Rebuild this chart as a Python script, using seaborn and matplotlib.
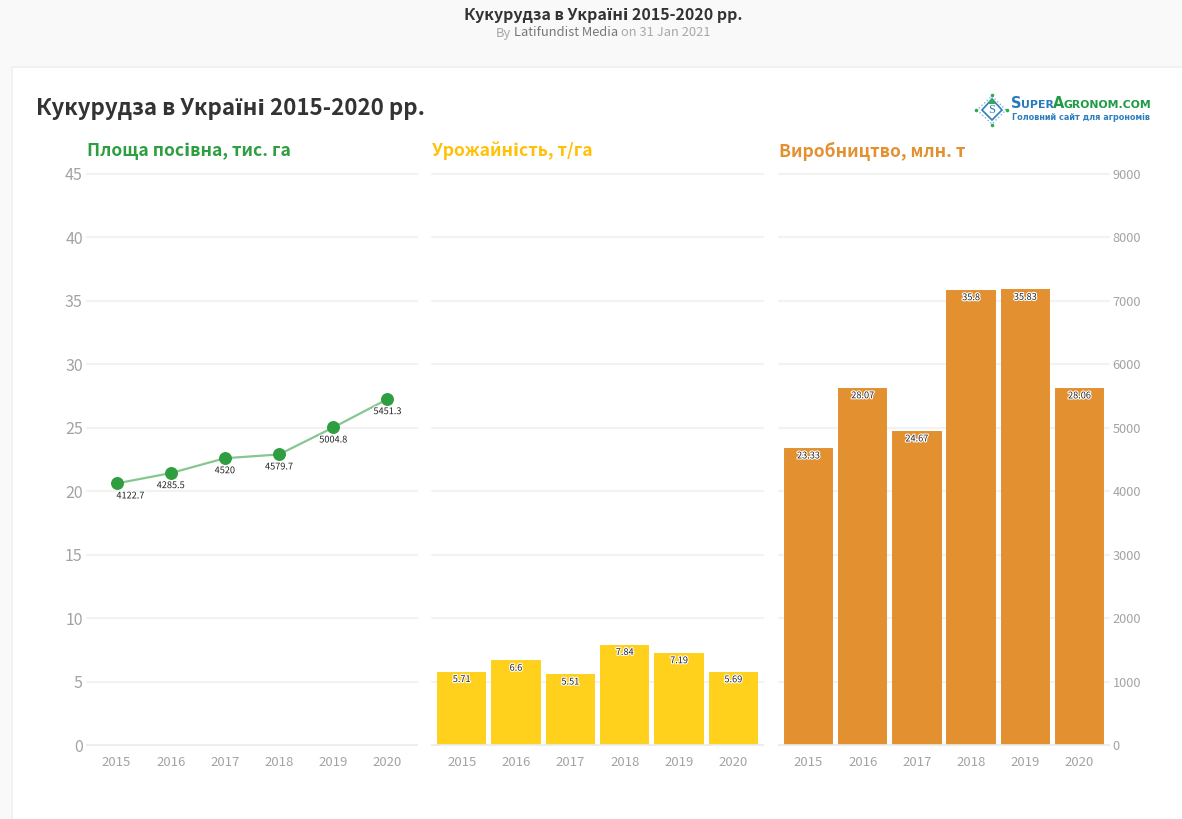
import matplotlib.pyplot as plt
import matplotlib.patheffects as pe
from matplotlib.lines import Line2D
from matplotlib.patches import Rectangle, Polygon
import seaborn as sns
import pandas as pd

W, H = 1182, 819

df = pd.DataFrame({
    'Year': ['2015', '2016', '2017', '2018', '2019', '2020'],
    'Area': [4122.7, 4285.5, 4520, 4579.7, 5004.8, 5451.3],
    'Yield': [5.71, 6.6, 5.51, 7.84, 7.19, 5.69],
    'Production': [23.33, 28.07, 24.67, 35.8, 35.83, 28.06],
})

GREEN = '#2e9e41'
YELLOW = '#ffd11c'
ORANGE = '#e39030'
GRID = '#f2f2f2'
TICK = '#a3a3a3'
DARK = '#333333'

sns.set_theme(style="white")
plt.rcParams['font.family'] = ['Noto Sans CJK SC', 'DejaVu Sans']

fig = plt.figure(figsize=(W / 100, H / 100), dpi=100, facecolor='#f9f9f9')


def px(x, y):
    return x / W, 1 - y / H


def panel(left, right):
    ax = fig.add_axes([left / W, 1 - 745 / H, (right - left) / W, (745 - 174) / H])
    ax.patch.set_alpha(0)
    ax.set_ylim(0, 45)
    ax.set_yticks(range(0, 50, 5))
    ax.grid(axis='y', color=GRID, lw=1.5, clip_on=False)
    ax.set_axisbelow(True)
    sns.despine(ax=ax, left=True, top=True, right=True)
    ax.spines['bottom'].set_color('#ececec')
    ax.spines['bottom'].set_linewidth(1.2)
    ax.tick_params(axis='x', length=5, width=0.8, color='#e4e4e4', labelcolor=TICK, labelsize=9.5, pad=3)
    ax.tick_params(axis='y', length=0, labelleft=False)
    return ax


def value_labels(ax, values, offset, first_shift=0):
    for i, v in enumerate(values):
        shift = first_shift if i == 0 else 0
        ax.annotate(f'{v:g}', (i, v), xytext=(shift, offset), textcoords='offset points',
                    ha='center', va='center', fontsize=6.6, color='#222222',
                    path_effects=[pe.withStroke(linewidth=1.6, foreground='white')], zorder=10)


def bars(ax, column, color):
    sns.barplot(data=df, x='Year', y=column, color=color, saturation=1, width=0.875,
                edgecolor=color, linewidth=1.4, ax=ax)
    ax.set_xlabel('')
    ax.set_ylabel('')


# page background and white card
fig.add_artist(Rectangle(px(11, 825), 1174 / W, 759 / H, transform=fig.transFigure,
                         fc='#f1f1f1', ec='none', zorder=-2))
fig.add_artist(Rectangle(px(13, 825), 1172 / W, 757 / H, transform=fig.transFigure,
                         fc='white', ec='none', zorder=-1))

# area panel, bar scale on the left, area scale for the line
ax1 = panel(87, 417)
sns.barplot(data=df, x='Year', y=[0] * 6, color='white', ax=ax1, alpha=0)
ax1.set_ylim(0, 45)
ax1.tick_params(axis='y', labelleft=True, labelsize=11.5, labelcolor=TICK, pad=3)
ax1.set_xlabel('')
ax1.set_ylabel('')
ax1b = ax1.twinx()
ax1b.patch.set_alpha(0)
sns.lineplot(data=df, x='Year', y='Area', color='#86c78f', lw=1.6, ax=ax1b, zorder=2)
ax1b.plot(df['Year'], df['Area'], ls='none', marker='o', ms=8.3, color=GREEN, zorder=3)
ax1b.set_ylim(0, 9000)
ax1b.axis('off')
value_labels(ax1b, df['Area'], -9, first_shift=10)

# yield panel
ax2 = panel(432, 763)
bars(ax2, 'Yield', YELLOW)
value_labels(ax2, df['Yield'], -5)

# production panel, area scale on the right
ax3 = panel(779, 1109)
bars(ax3, 'Production', ORANGE)
value_labels(ax3, df['Production'], -5)
ax3b = ax3.twinx()
ax3b.set_ylim(0, 9000)
ax3b.set_yticks(range(0, 10000, 1000))
ax3b.tick_params(axis='y', length=0, labelsize=9.2, labelcolor=TICK, pad=2.5)
ax3b.grid(False)
sns.despine(ax=ax3b, left=True, top=True, right=True, bottom=True)

for ax in (ax1, ax2, ax3):
    ax.set_xlim(-0.545, 5.545)

# page heading
fig.text(*px(603, 15), 'Кукурудза в Україні 2015-2020 рр.', ha='center', va='center',
         fontsize=11.5, fontweight='bold', color=DARK)
fig.text(*px(496, 33), 'By', ha='left', va='center', fontsize=9.3, color='#a8a8a8')
fig.text(*px(514, 33), 'Latifundist Media', ha='left', va='center', fontsize=9.3, color='#777777')
fig.text(*px(621, 33), 'on 31 Jan 2021', ha='left', va='center', fontsize=9.3, color='#a8a8a8')

# card title and panel titles
fig.text(*px(36, 109), 'Кукурудза в Україні 2015-2020 рр.', ha='left', va='center',
         fontsize=16.05, fontweight='bold', color=DARK)
fig.text(*px(87, 151), 'Площа посівна, тис. га', ha='left', va='center',
         fontsize=12.6, fontweight='bold', color=GREEN)
fig.text(*px(432, 151), 'Урожайність, т/га', ha='left', va='center',
         fontsize=12.6, fontweight='bold', color='#ffc107')
fig.text(*px(779, 151), 'Виробництво, млн. т', ha='left', va='center',
         fontsize=12.6, fontweight='bold', color=ORANGE)

# logo
fig.add_artist(Polygon([px(992, 96), px(1006, 110), px(992, 124), px(977, 110)],
                       transform=fig.transFigure, fc='white', ec='#7fb3dc', lw=1.0, ls=':'))
fig.add_artist(Polygon([px(992, 99), px(1002, 110), px(992, 120), px(982, 110)],
                       transform=fig.transFigure, fc='white', ec='#2f7fbf', lw=1.2))
fig.add_artist(Polygon([px(992, 99), px(997, 104), px(987, 104)],
                       transform=fig.transFigure, fc='#35a853', ec='none'))
for cx, cy in [(992, 95), (1007, 110), (992, 125), (976, 110)]:
    dx, dy = px(cx, cy)
    fig.add_artist(Line2D([dx], [dy], transform=fig.transFigure, marker='o', ms=1.6,
                          color='#35a853', ls='none'))
fig.text(*px(992, 110), 'S', ha='center', va='center', fontsize=9, color='#2f7fbf',
         family=['Liberation Serif'])
fig.text(*px(1011, 104), 'S', ha='left', va='center', fontsize=10.5, fontweight='bold', color='#2a78bd',
         family=['DejaVu Sans'])
fig.text(*px(1021, 105), 'UPER', ha='left', va='center', fontsize=7.9, fontweight='bold', color='#2a78bd',
         family=['DejaVu Sans'])
fig.text(*px(1053, 104), 'A', ha='left', va='center', fontsize=10.5, fontweight='bold', color='#1f9a45',
         family=['DejaVu Sans'])
fig.text(*px(1064, 105), 'GRONOM.COM', ha='left', va='center', fontsize=7.8, fontweight='bold', color='#1f9a45',
         family=['DejaVu Sans'])
fig.text(*px(1012, 117), 'Головний сайт для агрономів', ha='left', va='center', fontsize=5.9,
         fontweight='bold', color='#2f7fbf', family=['DejaVu Sans'])

plt.savefig('out.png', dpi=100, facecolor=fig.get_facecolor())
plt.close()
